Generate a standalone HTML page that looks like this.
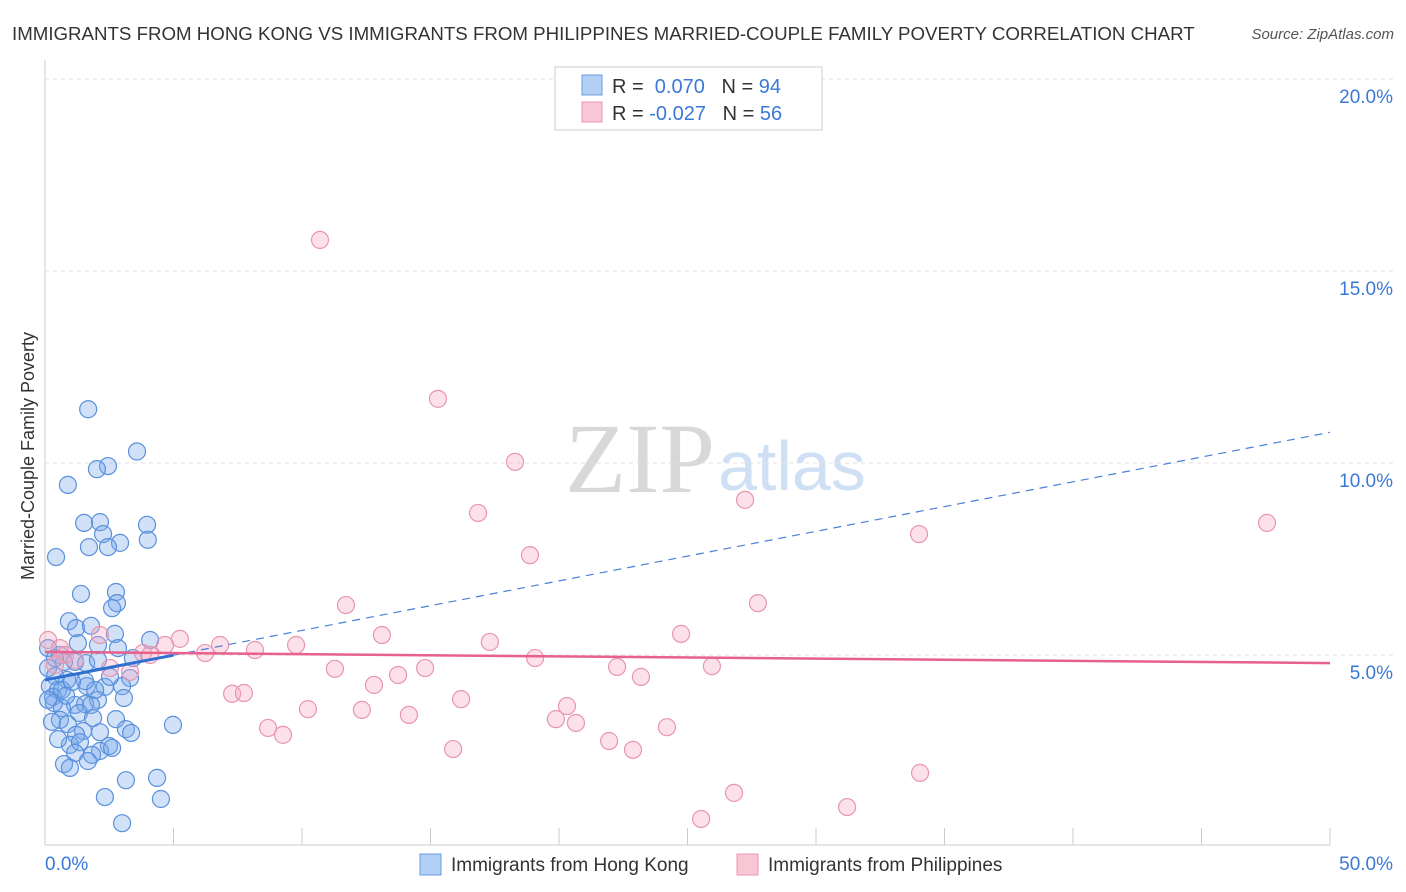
<!DOCTYPE html>
<html><head><meta charset="utf-8"><style>
body{margin:0;background:#fff;font-family:"Liberation Sans",sans-serif;}
svg{display:block}
</style></head><body>
<svg id="chart" width="1406" height="892">
<text x="12" y="40" font-size="18.7" fill="#333">IMMIGRANTS FROM HONG KONG VS IMMIGRANTS FROM PHILIPPINES MARRIED-COUPLE FAMILY POVERTY CORRELATION CHART</text>
<text x="1394" y="39" font-size="15" fill="#555" font-style="italic" text-anchor="end">Source: ZipAtlas.com</text>
<text x="34" y="456" font-size="18" fill="#333" text-anchor="middle" transform="rotate(-90 34 456)">Married-Couple Family Poverty</text>
<text x="715" y="492" font-size="100" fill="#d8d8d8" text-anchor="end" font-family="Liberation Serif">ZIP</text>
<text x="718" y="490" font-size="70" fill="#cfe0f5">atlas</text>
<g id="grid"></g><g id="pts"></g><g id="trend"></g>
<g>
<rect x="555" y="67" width="267" height="63" fill="#fff" stroke="#ccc"/>
<rect x="582" y="75" width="20" height="20" fill="#b3cff5" stroke="#6a9be0"/>
<rect x="582" y="102" width="20" height="20" fill="#f9c6d6" stroke="#ec97b2"/>
<text x="612" y="93" font-size="20" fill="#333">R = <tspan fill="#3b78d8">&#160;0.070</tspan>&#160;&#160;&#160;N = <tspan fill="#3b78d8">94</tspan></text>
<text x="612" y="120" font-size="20" fill="#333">R = <tspan fill="#3b78d8">-0.027</tspan>&#160;&#160;&#160;N = <tspan fill="#3b78d8">56</tspan></text>
</g>
<g>
<rect x="420" y="854" width="21" height="21" fill="#b3cff5" stroke="#6a9be0"/>
<text x="451" y="871" font-size="19" fill="#333">Immigrants from Hong Kong</text>
<rect x="737" y="854" width="21" height="21" fill="#f9c6d6" stroke="#ec97b2"/>
<text x="768" y="871" font-size="19" fill="#333">Immigrants from Philippines</text>
</g>
</svg>
<script>
const yTicks=[5,10,15,20];
const yTickLabels=["5.0%","10.0%","15.0%","20.0%"];
const xTickLabels=["0.0%","50.0%"];
const blueX=[1.68,3.58,2.45,2.02,0.89,1.52,2.14,3.97,2.26,4.0,2.92,1.71,2.45,0.43,2.76,1.4,2.8,2.61,0.93,1.21,1.79,2.72,4.09,1.28,2.06,2.84,0.12,0.58,1.17,1.6,2.06,3.42,0.74,0.12,0.39,0.86,3.31,3.0,2.33,1.63,0.19,0.51,0.31,2.06,3.07,1.17,1.56,1.79,0.66,0.35,1.32,1.87,2.76,0.58,0.27,0.89,3.15,3.35,1.48,1.21,2.14,0.97,1.36,2.49,2.14,1.83,2.61,1.17,1.67,0.74,0.97,4.98,3.15,4.36,2.33,4.51,3.0,0.12,0.39,0.66,1.95,2.53,1.56,1.05,0.82,0.51];
const blueY=[11.4,10.3,9.92,9.84,9.43,8.44,8.46,8.39,8.15,8.0,7.92,7.81,7.81,7.55,6.64,6.59,6.35,6.22,5.88,5.7,5.76,5.55,5.39,5.31,5.26,5.18,5.18,5.0,4.82,4.79,4.87,4.92,4.82,4.66,4.45,4.35,4.4,4.19,4.17,4.19,4.19,4.09,3.91,3.83,3.88,3.7,3.72,3.7,3.62,3.75,3.49,3.36,3.33,3.31,3.26,3.20,3.07,2.97,3.02,2.92,2.99,2.66,2.73,2.63,2.5,2.40,2.58,2.45,2.24,2.16,2.06,3.18,1.74,1.80,1.30,1.25,0.62,3.83,4.92,4.09,4.09,4.43,4.32,4.30,3.94,2.81,2.68];
const pinkX=[10.7,15.29,18.29,16.85,27.24,18.87,34.01,47.55,11.71,27.74,13.11,17.31,24.75,9.77,5.25,4.67,6.81,6.23,8.17,3.81,19.07,22.26,25.95,11.28,14.79,13.74,23.19,12.8,7.28,7.74,16.19,10.23,12.33,14.16,20.31,19.88,20.66,8.68,9.26,24.2,21.95,15.88,22.88,34.05,26.81,31.21,25.53,0.12,0.58,0.78,2.14,2.53,1.17,0.39,3.31,4.09];
const pinkY=[15.81,11.67,10.03,8.7,9.04,7.6,8.15,8.44,6.3,6.35,5.52,5.34,5.55,5.26,5.42,5.26,5.26,5.05,5.13,5.05,4.92,4.69,4.71,4.64,4.66,4.48,4.43,4.22,3.99,4.01,3.85,3.59,3.57,3.44,3.67,3.33,3.23,3.10,2.92,3.12,2.76,2.55,2.53,1.93,1.41,1.04,0.73,5.39,5.18,5.0,5.52,4.66,4.87,4.74,4.56,5.0];
const blueTrend=[4.35,10.8];
const pinkTrend=[5.08,4.79];
const X=v=>45+v*25.7, Y=v=>847-v*38.4;
const ns="http://www.w3.org/2000/svg";
function mk(tag,attrs,parent){const e=document.createElementNS(ns,tag);for(const k in attrs)e.setAttribute(k,attrs[k]);parent.appendChild(e);return e;}
const grid=document.getElementById('grid');
mk('line',{x1:45,y1:60,x2:45,y2:845,stroke:'#ccc'},grid);
mk('line',{x1:45,y1:845,x2:1330,y2:845,stroke:'#ccc'},grid);
for(let i=0;i<yTicks.length;i++){
 const l=mk('line',{x1:45,y1:Y(yTicks[i]),x2:1394,y2:Y(yTicks[i]),stroke:'#e0e0e0','stroke-dasharray':'4,4'},grid);
 
 
 const t=mk('text',{x:1393,y:Y(yTicks[i])+24,'font-size':19,fill:'#3b78d8','text-anchor':'end'},grid);
 t.textContent=yTickLabels[i];
 
 
}
for(let i=1;i<=10;i++){mk('line',{x1:X(i*5),y1:828,x2:X(i*5),y2:845,stroke:'#ccc'},grid);}
[[0,'start',45],[1,'end',1393]].forEach(([i,a,x])=>{const t=mk('text',{x:x,y:870,'font-size':19,fill:'#3b78d8','text-anchor':a},grid);t.textContent=xTickLabels[i];
 
 });
const pts=document.getElementById('pts');
for(let i=0;i<blueX.length;i++){const c=mk('circle',{cx:X(blueX[i]),cy:Y(blueY[i]),r:8.5,fill:'rgba(120,170,235,0.35)',stroke:'#5a90dc','stroke-width':1.2},pts);
 
 }
for(let i=0;i<pinkX.length;i++){const c=mk('circle',{cx:X(pinkX[i]),cy:Y(pinkY[i]),r:8.5,fill:'rgba(245,170,195,0.35)',stroke:'#e896b0','stroke-width':1.2},pts);
 
 }
const tr=document.getElementById('trend');
const bAt=x=>blueTrend[0]+(blueTrend[1]-blueTrend[0])*x/50;
let e=mk('line',{x1:X(0),y1:Y(bAt(0)),x2:X(5),y2:Y(bAt(5)),stroke:'#2e6fd0','stroke-width':3},tr);

e=mk('line',{x1:X(5),y1:Y(bAt(5)),x2:X(50),y2:Y(bAt(50)),stroke:'#4a80d6','stroke-width':1.2,'stroke-dasharray':'8,6'},tr);

e=mk('line',{x1:X(0),y1:Y(pinkTrend[0]),x2:X(50),y2:Y(pinkTrend[1]),stroke:'#e8608c','stroke-width':2.5},tr);

</script>
</body></html>
